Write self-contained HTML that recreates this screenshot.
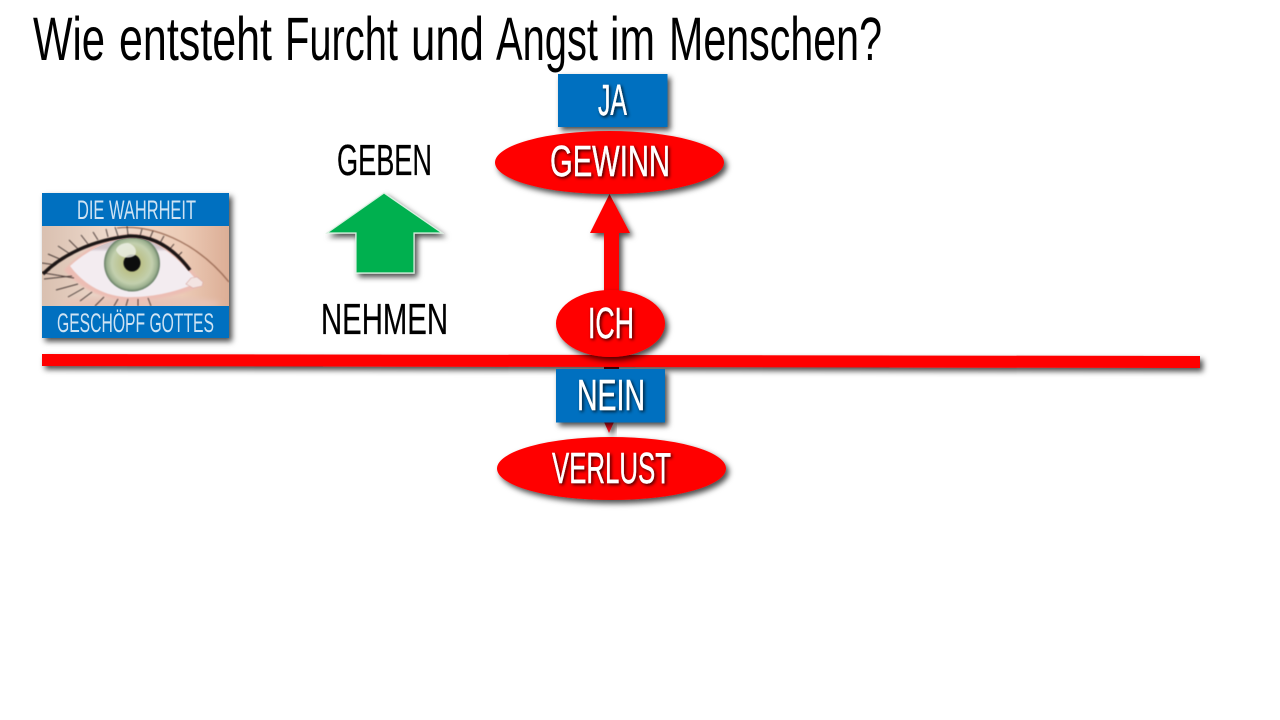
<!DOCTYPE html>
<html lang="de">
<head>
<meta charset="utf-8">
<title>Wie entsteht Furcht und Angst im Menschen?</title>
<style>
html,body{margin:0;padding:0;background:#fff;width:1280px;height:720px;overflow:hidden}
svg{display:block}
text{font-family:"Liberation Sans",sans-serif}
</style>
</head>
<body>
<svg width="1280" height="720" viewBox="0 0 1280 720" xmlns="http://www.w3.org/2000/svg">
<defs>
<filter id="sh" x="-20%" y="-40%" width="150%" height="220%"><feDropShadow dx="3" dy="3.500" stdDeviation="3" flood-color="#000" flood-opacity=".7"/></filter>
<filter id="ts" x="-10%" y="-20%" width="125%" height="150%"><feDropShadow dx="1.500" dy="1.500" stdDeviation="1.500" flood-color="#000" flood-opacity=".8"/></filter>
<filter id="b1"><feGaussianBlur stdDeviation="3"/></filter>
<filter id="b2"><feGaussianBlur stdDeviation="1.200"/></filter>
<filter id="b3"><feGaussianBlur stdDeviation=".5"/></filter>
<linearGradient id="skin" x1="0" y1="0" x2="1" y2="0"><stop offset="0" stop-color="#d9c0b0"/><stop offset=".4" stop-color="#f0dccf"/><stop offset=".75" stop-color="#eccbb6"/><stop offset="1" stop-color="#dcae96"/></linearGradient>
<radialGradient id="iris" cx=".5" cy=".5" r=".5"><stop offset="0" stop-color="#a3a25c"/><stop offset=".35" stop-color="#bcc28c"/><stop offset=".72" stop-color="#c3d0ae"/><stop offset=".9" stop-color="#9cb08f"/><stop offset="1" stop-color="#627a62"/></radialGradient>
<clipPath id="eyeclip"><rect x="42" y="226" width="187" height="80"/></clipPath>
<clipPath id="almond"><path d="M70 266C92 246 115 238 135 238C160 240 182 262 198 282C178 292 150 298 125 297C100 295 82 282 70 266Z"/></clipPath>
</defs>

<text x="33" y="60" font-size="61" textLength="72" lengthAdjust="spacingAndGlyphs">Wie</text>
<text x="119" y="60" font-size="61" textLength="153" lengthAdjust="spacingAndGlyphs">entsteht</text>
<text x="285" y="60" font-size="61" textLength="113" lengthAdjust="spacingAndGlyphs">Furcht</text>
<text x="411" y="60" font-size="61" textLength="73" lengthAdjust="spacingAndGlyphs">und</text>
<text x="496" y="60" font-size="61" textLength="102" lengthAdjust="spacingAndGlyphs">Angst</text>
<text x="610" y="60" font-size="61" textLength="45" lengthAdjust="spacingAndGlyphs">im</text>
<text x="669" y="60" font-size="61" textLength="213" lengthAdjust="spacingAndGlyphs">Menschen?</text>

<!-- image card -->
<rect x="42" y="193" width="187" height="145" fill="#0070c0" filter="url(#sh)"/>
<g clip-path="url(#eyeclip)">
<rect x="42" y="226" width="187" height="80" fill="url(#skin)"/>
<ellipse cx="140" cy="304" rx="80" ry="7" fill="#e6c2b6" filter="url(#b1)"/>
<path d="M64 270C90 242 115 234 135 234C162 236 186 260 203 285C180 296 150 302 125 301C98 298 78 286 64 270Z" fill="#ecbdb4" filter="url(#b2)"/>
<path d="M70 266C92 246 115 238 135 238C160 240 182 262 198 282C178 292 150 298 125 297C100 295 82 282 70 266Z" fill="#f3ecf0" filter="url(#b3)"/>
<g clip-path="url(#almond)">
<rect x="70" y="236" width="130" height="14" fill="#a99ba0" opacity=".45" filter="url(#b2)"/>
<circle cx="132" cy="263.500" r="28" fill="url(#iris)" filter="url(#b3)"/>
<circle cx="132" cy="263" r="8.500" fill="#0a0a0a" filter="url(#b3)"/>
<path d="M116 250C118 256 126 260 134 256C138 253 136 245 128 243C122 243 117 246 116 250Z" fill="#eef0e6" opacity=".8" filter="url(#b3)"/>
</g>
<path d="M186 284l5 -6 6 -1 6 5 -1 4 -9 2z" fill="#f3e4e2" stroke="#d9a9a2" stroke-width=".6" filter="url(#b3)"/>
<path d="M117 228C150 224 195 240 229 282" fill="none" stroke="#8f5f4a" stroke-width="1.500" opacity=".75" filter="url(#b3)"/>
<g filter="url(#b3)">
<path d="M43 274C62 255 92 240 130 236C155 236 175 250 190 270" fill="none" stroke="#1d1412" stroke-width="3.400"/>
<g stroke="#211614" stroke-width="1" fill="none" opacity=".75">
<path d="M50 270l-8 2M56 265l-14 -2M62 260l-14 -6M70 254l-12 -8M78 249l-9 -9M88 244l-7 -9M98 240l-5 -8M108 237l-2 -8M118 236l-3 -9M128 235l-1 -9M140 236l2 -7M150 238l3 -7M160 243l4 -7M170 249l4 -5M178 256l4 -4"/>
<path d="M74 278l-30 -5M72 276l-28 3M78 284l-22 6M84 288l-16 9M92 292l-12 9M104 297l-9 9M118 299l-4 7M128 299l-2 7M138 299l0 7M148 298l3 8"/>
</g>
</g>
</g>
<rect x="42" y="193" width="187" height="33" fill="#0070c0"/>
<rect x="42" y="306" width="187" height="32" fill="#0070c0"/>
<text x="77" y="219" font-size="27" fill="#cfe3f3" textLength="119" lengthAdjust="spacingAndGlyphs">DIE WAHRHEIT</text>
<text x="57" y="332" font-size="27" fill="#cfe3f3" textLength="157" lengthAdjust="spacingAndGlyphs">GESCHÖPF GOTTES</text>

<!-- green arrow -->
<polygon points="384,193 442,233 414,233 414,273 356,273 356,233 327,233" fill="#00b050" stroke="#d9f0e0" stroke-width="1.200" filter="url(#sh)"/>
<text x="337" y="175" font-size="44" fill="#000" stroke="#000" stroke-width=".3" textLength="95" lengthAdjust="spacingAndGlyphs">GEBEN</text>
<text x="321" y="334" font-size="44" fill="#000" stroke="#000" stroke-width=".3" textLength="127" lengthAdjust="spacingAndGlyphs">NEHMEN</text>

<!-- up arrow -->
<polygon points="609.500,194 630,233 619,233 619,295 604,295 604,233 590,233" fill="#ff0000" filter="url(#sh)"/>

<!-- down connector fragments -->
<rect x="604" y="360" width="15" height="10" fill="#7a0a14"/>
<polygon points="604,422 614,422 609,433" fill="#e8101c" filter="url(#sh)"/>

<!-- horizontal line -->
<polygon points="42,354 1200,356 1200,368 42,366" fill="#ff0000" filter="url(#sh)"/>

<!-- JA -->
<rect x="558" y="74" width="109.500" height="53" fill="#0070c0" filter="url(#sh)"/>
<text x="598" y="115" font-size="44" fill="#fff" stroke="#fff" stroke-width=".4" textLength="29" lengthAdjust="spacingAndGlyphs" filter="url(#ts)">JA</text>

<!-- GEWINN -->
<ellipse cx="609.500" cy="162.500" rx="114.500" ry="31.500" fill="#ff0000" filter="url(#sh)"/>
<text x="550" y="176" font-size="44" fill="#fff" stroke="#fff" stroke-width=".4" textLength="120" lengthAdjust="spacingAndGlyphs" filter="url(#ts)">GEWINN</text>

<!-- ICH -->
<ellipse cx="610.500" cy="323.500" rx="54.500" ry="33.500" fill="#ff0000" filter="url(#sh)"/>
<text x="588" y="338" font-size="44" fill="#fff" stroke="#fff" stroke-width=".4" textLength="46" lengthAdjust="spacingAndGlyphs" filter="url(#ts)">ICH</text>

<!-- NEIN -->
<rect x="556" y="369" width="109" height="53.500" fill="#0070c0" filter="url(#sh)"/>
<text x="577" y="410" font-size="44" fill="#fff" stroke="#fff" stroke-width=".4" textLength="68" lengthAdjust="spacingAndGlyphs" filter="url(#ts)">NEIN</text>

<!-- VERLUST -->
<ellipse cx="611.500" cy="468.500" rx="114.500" ry="31.500" fill="#ff0000" filter="url(#sh)"/>
<text x="552" y="483" font-size="44" fill="#fff" stroke="#fff" stroke-width=".4" textLength="119" lengthAdjust="spacingAndGlyphs" filter="url(#ts)">VERLUST</text>
</svg>
</body>
</html>
